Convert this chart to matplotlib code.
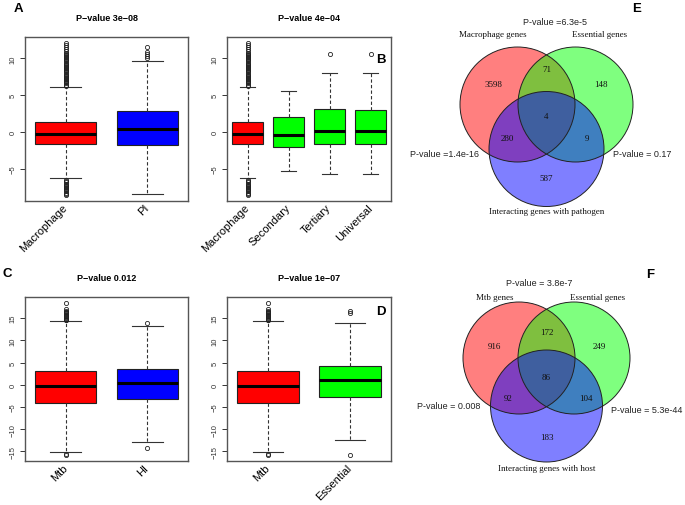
import matplotlib
matplotlib.use('Agg')
import matplotlib.pyplot as plt
from matplotlib.patches import Circle

plt.rcParams['font.family'] = ['Liberation Sans', 'DejaVu Sans']

# ---------------- data ----------------
# Panel A
a_labels = ['Macrophage', 'PI']
a_colors = ['#FF0000', '#0000FF']
a_med = [-0.3, 0.35]
a_q1 = [-1.7, -1.75]
a_q3 = [1.4, 2.8]
a_lo = [-6.35, -8.5]
a_hi = [6.1, 9.7]
mac_fliers = [6.3, 6.45, 6.6, 6.75, 6.9, 7.05, 7.2, 7.35, 7.5, 7.65, 7.8, 7.95, 8.1,
              8.25, 8.4, 8.55, 8.7, 8.85, 9.0, 9.15, 9.3, 9.45, 9.6, 9.75, 9.9, 10.05,
              10.2, 10.35, 10.5, 10.65, 10.8, 11.0, 11.3, 11.6, 11.9, 12.1,
              -6.6, -6.75, -6.9, -7.05, -7.2, -7.35, -7.5, -7.65, -7.8, -7.95, -8.1,
              -8.3, -8.45, -8.6]
pi_fliers = [10.1, 10.35, 10.6, 10.9, 11.6]
a_fliers = [mac_fliers, pi_fliers]
a_title = 'P\u2212value 3e\u221208'

# Panel B
b_labels = ['Macrophage', 'Secondary', 'Tertiary', 'Universal']
b_colors = ['#FF0000', '#00FF00', '#00FF00', '#00FF00']
b_med = [-0.3, -0.4, 0.05, 0.1]
b_q1 = [-1.7, -2.0, -1.66, -1.66]
b_q3 = [1.4, 2.07, 3.1, 2.97]
b_lo = [-6.35, -5.4, -5.7, -5.7]
b_hi = [6.1, 5.5, 8.07, 8.07]
b_fliers = [mac_fliers, [], [10.6], [10.6]]
b_title = 'P\u2212value 4e\u221204'

# Panel C
c_labels = ['Mtb', 'HI']
c_colors = ['#FF0000', '#0000FF']
c_med = [-0.37, 0.45]
c_q1 = [-4.1, -3.2]
c_q3 = [3.15, 3.5]
c_lo = [-15.2, -13.0]
c_hi = [14.3, 13.3]
mtb_fliers = [14.5, 14.7, 14.9, 15.1, 15.3, 15.5, 15.7, 15.9, 16.1, 16.3, 16.5,
              16.7, 17.0, 18.4, -15.5, -15.8]
hi_fliers = [13.9, -14.3]
c_fliers = [mtb_fliers, hi_fliers]
c_title = 'P\u2212value 0.012'

# Panel D
d_labels = ['Mtb', 'Essential']
d_colors = ['#FF0000', '#00FF00']
d_med = [-0.37, 1.0]
d_q1 = [-4.1, -2.7]
d_q3 = [3.15, 4.3]
d_lo = [-15.2, -12.5]
d_hi = [14.3, 13.8]
d_fliers = [mtb_fliers, [16.1, 16.6, -15.8]]
d_title = 'P\u2212value 1e\u221207'

# Venn E
e_sets = ['Macrophage genes', 'Essential genes', 'Interacting genes with pathogen']
e_counts = {'100': 3598, '010': 148, '001': 587, '110': 71, '101': 280, '011': 9, '111': 4}
e_pvals = ['P-value =6.3e-5', 'P-value =1.4e-16', 'P-value = 0.17']

# Venn F
f_sets = ['Mtb genes', 'Essential genes', 'Interacting genes with host']
f_counts = {'100': 916, '010': 249, '001': 183, '110': 172, '101': 92, '011': 104, '111': 86}
f_pvals = ['P-value = 3.8e-7', 'P-value = 0.008', 'P-value = 5.3e-44']

# ---------------- figure ----------------
W, H = 685, 506
fig = plt.figure(figsize=(W / 100, H / 100), dpi=100)


def px_axes(x0, y0, x1, y1):
    return fig.add_axes([x0 / W, 1 - y1 / H, (x1 - x0) / W, (y1 - y0) / H])


def boxpanel(ax, labels, colors, med, q1, q3, lo, hi, fliers, title, yticks):
    stats = []
    for i in range(len(labels)):
        stats.append(dict(med=med[i], q1=q1[i], q3=q3[i], whislo=lo[i], whishi=hi[i],
                          fliers=fliers[i], label=labels[i]))
    pos = list(range(1, len(labels) + 1))
    bp = ax.bxp(stats, positions=pos, widths=0.75, capwidths=0.375, patch_artist=True,
                boxprops=dict(edgecolor='#222222', linewidth=0.8),
                medianprops=dict(color='black', linewidth=2.2, solid_capstyle='butt'),
                whiskerprops=dict(color='#333333', linewidth=0.8, linestyle=(0, (3, 2))),
                capprops=dict(color='#333333', linewidth=0.8),
                flierprops=dict(marker='o', markersize=3.0, markerfacecolor='none',
                                markeredgecolor='#222222', markeredgewidth=0.6))
    for patch, c in zip(bp['boxes'], colors):
        patch.set_facecolor(c)
    allv = []
    for i in range(len(labels)):
        allv += [lo[i], hi[i]] + list(fliers[i])
    vmin, vmax = min(allv), max(allv)
    r = vmax - vmin
    ax.set_ylim(vmin - 0.04 * r, vmax + 0.04 * r)
    ax.set_xlim(0.5, len(labels) + 0.5)
    ax.set_yticks(yticks)
    ax.set_yticklabels([str(t).replace('-', '\u2212') for t in yticks])
    ax.tick_params(axis='y', labelsize=5.5, length=3.5, width=0.7, pad=2.5,
                   colors='#333333', labelcolor='#333333')
    for lab in ax.get_yticklabels():
        lab.set_rotation(90)
        lab.set_va('center')
        lab.set_ha('right')
    ax.set_xticks(pos)
    ax.set_xticklabels(labels, rotation=45, ha='right', va='center',
                       rotation_mode='anchor', fontsize=8)
    ax.tick_params(axis='x', length=0, pad=3.5)
    for s in ax.spines.values():
        s.set_color('#555555')
        s.set_linewidth(1.0)
    ax.set_title(title, fontsize=6.5, fontweight='bold', pad=12)


axA = px_axes(25, 38, 188, 202)
boxpanel(axA, a_labels, a_colors, a_med, a_q1, a_q3, a_lo, a_hi, a_fliers, a_title, [-5, 0, 5, 10])
axB = px_axes(227, 38, 391, 202)
boxpanel(axB, b_labels, b_colors, b_med, b_q1, b_q3, b_lo, b_hi, b_fliers, b_title, [-5, 0, 5, 10])
axC = px_axes(25, 298, 188, 462)
boxpanel(axC, c_labels, c_colors, c_med, c_q1, c_q3, c_lo, c_hi, c_fliers, c_title,
         [-15, -10, -5, 0, 5, 10, 15])
axD = px_axes(227, 298, 391, 462)
boxpanel(axD, d_labels, d_colors, d_med, d_q1, d_q3, d_lo, d_hi, d_fliers, d_title,
         [-15, -10, -5, 0, 5, 10, 15])

# overlay in pixel coordinates for Venn diagrams and panel letters
ov = fig.add_axes([0, 0, 1, 1])
ov.set_xlim(0, W)
ov.set_ylim(H, 0)
ov.axis('off')
ov.patch.set_alpha(0)


def venn(cx, cy, r, d, dy, sets, counts, pvals, lay):
    # centres of the three circles (layout)
    centres = [(cx - d / 2, cy), (cx + d / 2, cy), (cx, cy + dy)]
    cols = [(1, 0, 0, 0.5), (0, 1, 0, 0.5), (0, 0, 1, 0.5)]
    for (x, y), c in zip(centres, cols):
        ov.add_patch(Circle((x, y), r, facecolor=c, edgecolor='none'))
    for (x, y) in centres:
        ov.add_patch(Circle((x, y), r, facecolor='none', edgecolor='#222222', linewidth=0.7))
    serif = dict(family=['Liberation Serif', 'DejaVu Serif'], fontsize=6.5,
                 ha='center', va='center', color='#111111')
    sans = dict(fontsize=6.5, ha='center', va='center', color='#222222')
    for k, v in counts.items():
        ox, oy = lay[k]
        ov.text(cx + ox, cy + oy, str(v), **serif)
    for name, key in zip(sets, ['s1', 's2', 's3']):
        ox, oy = lay[key]
        ov.text(cx + ox, cy + oy, name, **serif)
    for pv, key in zip(pvals, ['p12', 'p13', 'p23']):
        ox, oy = lay[key]
        ov.text(cx + ox, cy + oy, pv, **sans)


lay_e = {'100': (-53.5, -20.5), '010': (54.5, -20.5), '110': (0, -35.5), '111': (0, 11.5),
         '101': (-39.5, 33.5), '011': (40.5, 33.5), '001': (0, 73.5),
         's1': (-53.5, -70.5), 's2': (53.5, -70.5), 's3': (0, 106.5),
         'p12': (8.5, -83.5), 'p13': (-101.5, 48.5), 'p23': (95.5, 48.5)}
lay_f = {'100': (-52.5, -12), '010': (52.5, -12), '110': (0, -26), '111': (0, 19),
         '101': (-38.5, 40), '011': (39.5, 40), '001': (0, 79),
         's1': (-51.5, -61), 's2': (51.5, -61), 's3': (0, 110),
         'p12': (-7.5, -76), 'p13': (-97.5, 48), 'p23': (100.5, 52)}

venn(546.5, 105.5, 57.5, 58, 44.5, e_sets, e_counts, e_pvals, lay_e)
venn(546.5, 359, 56, 55, 48, f_sets, f_counts, f_pvals, lay_f)

letters = [('A', 18, 9), ('B', 381, 60), ('C', 7.5, 274), ('D', 381, 312),
           ('E', 637, 9), ('F', 650, 275)]
for t, x, y in letters:
    ov.text(x, y, t, fontsize=9.5, fontweight='bold', ha='center', va='center')

fig.savefig('out.png', dpi=100)
